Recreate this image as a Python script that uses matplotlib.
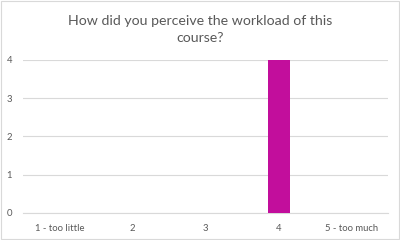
import matplotlib
matplotlib.use("Agg")
import matplotlib.pyplot as plt

categories = ["1 - too little", "2", "3", "4", "5 - too much"]
values = [0, 0, 0, 4, 0]
yticks = [0, 1, 2, 3, 4]

plt.rcParams['font.family'] = ['Lato', 'DejaVu Sans']
fig = plt.figure(figsize=(4, 2.4), dpi=100)
ax = fig.add_axes([0.058, 0.113, 0.912, 0.638])
x = list(range(len(categories)))
ax.bar(x, values, width=0.3, color='#C20E9C', zorder=3)
ax.set_xlim(-0.5, 4.5)
ax.set_ylim(0, 4)
ax.set_yticks(yticks)
ax.set_xticks(x)
ax.set_xticklabels(categories)
ax.grid(axis='y', color='#D9D9D9', linewidth=0.8, zorder=0)
for s in ['top', 'right', 'left']:
    ax.spines[s].set_visible(False)
ax.spines['bottom'].set_color('#D9D9D9')
ax.spines['bottom'].set_linewidth(0.8)
ax.tick_params(axis='both', length=0, labelsize=6.8, colors='#595959')
ax.tick_params(axis='y', pad=8)
ax.tick_params(axis='x', pad=8)
fig.text(0.5, 0.878, "How did you perceive the workload of this\ncourse?",
         ha='center', va='center', fontsize=10.2, color='#595959', linespacing=1.45)
fig.patches.append(plt.Rectangle((0.002, 0.004), 0.996, 0.992, transform=fig.transFigure,
                                 fill=False, edgecolor='#D9D9D9', linewidth=0.8))
fig.savefig("out.png", dpi=100)
